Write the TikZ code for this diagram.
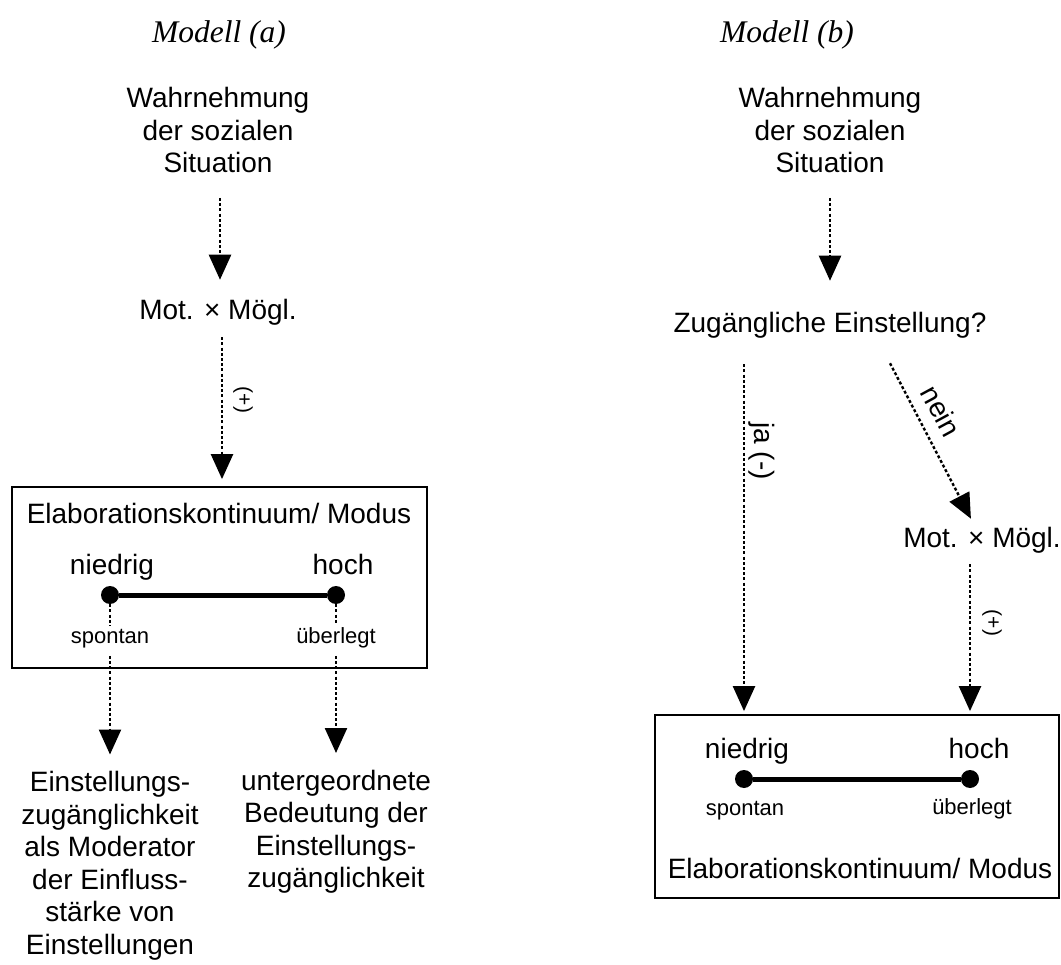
\documentclass[tikz,border=0pt]{standalone}
\usepackage{fontspec}
\setmainfont{Liberation Sans}
\newfontfamily\titlefont{Liberation Serif}
\usetikzlibrary{arrows.meta}
\begin{document}
\begin{tikzpicture}[x=1pt,y=-1pt,
  txt/.style={font=\fontsize{28}{32.5}\selectfont, align=center, inner sep=0pt},
  small/.style={font=\fontsize{22}{26}\selectfont, inner sep=0pt, anchor=base},
  end/.style={txt, anchor=base},
  heading/.style={font=\titlefont\itshape\fontsize{31.5}{36}\selectfont, inner sep=0pt},
  flow/.style={line width=2.4pt, dash pattern=on 3pt off 2.2pt,
    -{Triangle[length=25pt,width=22pt]}},
  link/.style={line width=2.4pt, dash pattern=on 3pt off 2.2pt},
  frame/.style={draw, line width=1.8pt, inner sep=0pt},
  bar/.style={line width=5pt},
  knob/.style={circle, fill, inner sep=0pt, minimum size=18pt},
  sign/.style={font=\fontsize{21}{25}\selectfont, inner sep=0pt, rotate=-90},
]
\useasboundingbox (0,0) rectangle (1061,965);

% ---------------- Modell (a) ----------------
\node[heading] (ta) at (219,35) {Modell (a)};
\node[txt] (wa) at (218,130) {Wahrnehmung\\der sozialen\\Situation};
\node[txt] (ma) at (218,312) {Mot. × Mögl.};
\node[frame, minimum width=415pt, minimum height=181pt] (boxa) at (219.5,577.5) {};
\node[txt] (ea) at (219,513) {Elaborationskontinuum/ Modus};
\node[end] (na) at (112,574) {niedrig};
\node[end] (ha) at (343,574) {hoch};
\node[knob] (ka1) at (110,595) {};
\node[knob] (ka2) at (336,595) {};
\node[small] (sa) at (110,643) {spontan};
\node[small] (ua) at (336,643) {überlegt};
\node[txt] (ia) at (110,866) {Einstellungs-\\zugänglichkeit\\als Moderator\\der Einfluss-\\stärke von\\Einstellungen};
\node[txt] (ga) at (336,832) {untergeordnete\\Bedeutung der\\Einstellungs-\\zugänglichkeit};
\node[sign] (pa) at (243,400) {(+)};

\draw[flow, shorten <=25pt, shorten >=19pt] ([xshift=2pt]wa.south) -- ([xshift=2pt]ma.north);
\draw[flow, shorten <=12pt, shorten >=7pt] ([xshift=4pt]ma.south) -- ([xshift=4pt]ma.south |- boxa.north);
\draw[bar] (ka1) -- (ka2);
\draw[link, shorten >=3pt] (ka1) -- (sa);
\draw[link, shorten >=3pt] (ka2) -- (ua);
\draw[flow, shorten <=8pt, shorten >=17pt] (sa.south) -- (ia.north);
\draw[flow, shorten <=8pt, shorten >=17pt] (ua.south) -- (ga.north);

% ---------------- Modell (b) ----------------
\node[heading] (tb) at (787,35) {Modell (b)};
\node[txt] (wb) at (830,130) {Wahrnehmung\\der sozialen\\Situation};
\node[txt] (zb) at (830,325) {Zugängliche Einstellung?};
\node[txt] (mb) at (982,540) {Mot. × Mögl.};
\node[frame, minimum width=404pt, minimum height=183pt] (boxb) at (857,806.5) {};
\node[end] (nb) at (747,758) {niedrig};
\node[end] (hb) at (979,758) {hoch};
\node[knob] (kb1) at (744,779) {};
\node[knob] (kb2) at (970,779) {};
\node[small] (sb) at (745,815) {spontan};
\node[small] (ub) at (972,814) {überlegt};
\node[txt] (eb) at (860,868) {Elaborationskontinuum/ Modus};
\node[txt, rotate=-90] (ja) at (762,451) {ja (-)};
\node[txt, rotate=-61.5] (ne) at (941,411) {nein};
\node[sign] (pb) at (992,623) {(+)};

\draw[flow, shorten <=25pt, shorten >=31pt] (wb.south) -- (zb.north);
\draw[flow, shorten <=26pt, shorten >=3pt] (zb.south -| kb1) -- (kb1 |- boxb.north);
\draw[flow, shorten >=24pt] ([xshift=60pt,yshift=-25pt]zb.south) -- (mb.center);
\draw[flow, shorten <=11pt, shorten >=3pt] (mb.south -| kb2) -- (kb2 |- boxb.north);
\draw[bar] (kb1) -- (kb2);
\end{tikzpicture}
\end{document}
